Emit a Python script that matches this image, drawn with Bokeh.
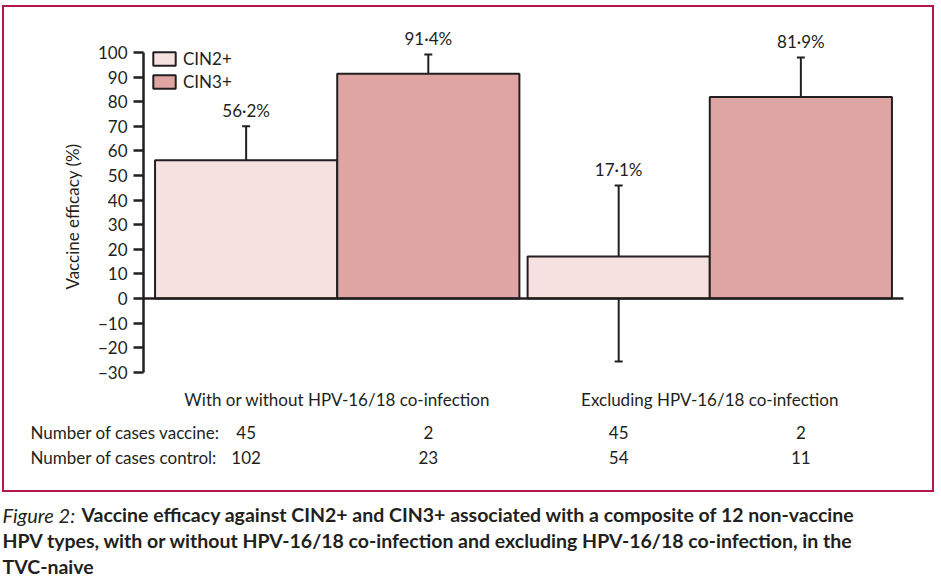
from bokeh.plotting import figure
from bokeh.layouts import column
from bokeh.models import (ColumnDataSource, Range1d, FixedTicker, Whisker, TeeHead,
                          Legend, LegendItem)
from bokeh.core.properties import value
from bokeh.embed import file_html
from bokeh.resources import INLINE

# ---------------- data ----------------
groups = ["With or without HPV-16/18 co-infection", "Excluding HPV-16/18 co-infection"]
series = ["CIN2+", "CIN3+"]
cin2_eff = [56.2, 17.1]
cin2_lo = [37.8, -25.6]
cin2_hi = [70.0, 45.9]
cin3_eff = [91.4, 81.9]
cin3_lo = [65.4, 17.1]
cin3_hi = [99.2, 98.0]
vaccine_cin2 = [45, 45]
vaccine_cin3 = [2, 2]
control_cin2 = [102, 54]
control_cin3 = [23, 11]
y_ticks = [-30, -20, -10, 0, 10, 20, 30, 40, 50, 60, 70, 80, 90, 100]
row_labels = ["Number of cases vaccine:", "Number of cases control:"]
caption_lead = "Figure 2:"
caption_lines = ["Vaccine efficacy against CIN2+ and CIN3+ associated with a composite of 12 non-vaccine",
                 "HPV types, with or without HPV-16/18 co-infection and excluding HPV-16/18 co-infection, in the",
                 "TVC-naive"]

# ---------------- layout (image pixel geometry) ----------------
FONT = "Lato"
INK = "#231f20"
C2 = "#f5e1df"
C3 = "#dfa5a2"
FRAME = "#b5174a"

BOX_L, BOX_R, BOX_T, BOX_B = 4, 932, 7, 490      # inner edges of the framed panel
AX_X = 143                                        # y axis position
FRAME_TOP = 20                                    # top of the chart's plotting area
CHART_B = 412                                     # bottom of chart figure
PXU_Y = 2.46                                      # pixels per % on y
Y0_PIX = 298                                      # pixel row of y = 0
X_START, X_END_AX = 0.48, 2.52                    # x data range between axis and end of zero line
AX_END_PIX = 903
PXU_X = (AX_END_PIX - AX_X) / (X_END_AX - X_START)
BAR_W = 0.489
W_ALL, H_ALL = 941, 577


def xd(px):
    return X_START + (px - AX_X) / PXU_X


def yd(py):
    return (Y0_PIX - py) / PXU_Y


gpos = [i + 1 for i in range(len(groups))]
x2 = [g - BAR_W / 2 for g in gpos]
x3 = [g + BAR_W / 2 for g in gpos]


def fmt(v):
    return f"{v:.1f}%".replace(".", "\u00b7")


src2 = ColumnDataSource(dict(x=x2, top=cin2_eff, lo=cin2_lo, hi=cin2_hi,
                             lab=[fmt(v) for v in cin2_eff],
                             vac=[str(v) for v in vaccine_cin2],
                             ctl=[str(v) for v in control_cin2]))
src3 = ColumnDataSource(dict(x=x3, top=cin3_eff, lo=cin3_lo, hi=cin3_hi,
                             lab=[fmt(v) for v in cin3_eff],
                             vac=[str(v) for v in vaccine_cin3],
                             ctl=[str(v) for v in control_cin3]))


def bare(fig):
    fig.grid.visible = False
    fig.outline_line_color = None
    fig.background_fill_color = "white"
    fig.border_fill_color = "white"
    return fig


# ---------------- chart ----------------
p = figure(width=BOX_R - BOX_L, height=CHART_B - BOX_T, output_backend="svg", toolbar_location=None,
           x_range=Range1d(X_START, xd(BOX_R)), y_range=Range1d(yd(CHART_B), yd(FRAME_TOP)),
           x_axis_location=None, title=None,
           min_border_left=AX_X - BOX_L, min_border_right=0,
           min_border_top=FRAME_TOP - BOX_T, min_border_bottom=0)
bare(p)

r2 = p.vbar(x="x", top="top", bottom=0, width=BAR_W, source=src2,
            fill_color=C2, line_color=INK, line_width=2)
r3 = p.vbar(x="x", top="top", bottom=0, width=BAR_W, source=src3,
            fill_color=C3, line_color=INK, line_width=2)

# zero line (from the y axis to the end of the category span)
p.segment(x0=[X_START], y0=[0], x1=[X_END_AX], y1=[0], line_color=INK, line_width=2.5)

for s in (src2, src3):
    p.add_layout(Whisker(source=s, base="x", upper="hi", lower="lo", dimension="height",
                         line_color=INK, line_width=2,
                         upper_head=TeeHead(size=8, line_color=INK, line_width=2),
                         lower_head=TeeHead(size=8, line_color=INK, line_width=2)))
    p.text(x="x", y="hi", text="lab", source=s, text_align="center",
           text_baseline="middle", y_offset=-16, text_font=value(FONT),
           text_font_size="17px", text_color=INK)

# category labels under the axis
p.text(x=gpos, y=[yd(399)] * len(gpos), text=groups, text_align="center",
       text_baseline="middle", text_font=value(FONT), text_font_size="17px", text_color=INK)

ax = p.yaxis[0]
ax.bounds = (-30, 100)
ax.ticker = FixedTicker(ticks=y_ticks)
ax.major_label_overrides = {t: str(t).replace("-", "\u2212") for t in y_ticks if t < 0}
ax.axis_label = "Vaccine efficacy (%)"
ax.axis_label_text_font = FONT
ax.axis_label_text_font_size = "17px"
ax.axis_label_text_font_style = "normal"
ax.axis_label_text_color = INK
ax.axis_label_standoff = 12
ax.major_label_text_font = FONT
ax.major_label_text_font_size = "17px"
ax.major_label_text_color = INK
ax.major_label_standoff = 6
ax.axis_line_color = INK
ax.axis_line_width = 2.5
ax.major_tick_line_color = INK
ax.major_tick_line_width = 2.5
ax.major_tick_out = 10
ax.major_tick_in = 0
ax.minor_tick_line_color = None

legend = Legend(items=[LegendItem(label=series[0], renderers=[r2]),
                       LegendItem(label=series[1], renderers=[r3])],
                location=(7, CHART_B - 92), orientation="vertical", padding=0, margin=0, spacing=2,
                glyph_width=28, glyph_height=17, label_height=17, label_standoff=5,
                label_text_font=FONT, label_text_font_size="17px", label_text_color=INK,
                border_line_color=None, background_fill_alpha=0)
p.add_layout(legend)

# ---------------- case table ----------------
t = figure(width=BOX_R - BOX_L, height=BOX_B - CHART_B, output_backend="svg", toolbar_location=None,
           x_range=Range1d(xd(BOX_L), xd(BOX_R)), y_range=Range1d(BOX_B, CHART_B),
           x_axis_location=None, y_axis_location=None, title=None, min_border=0,
           min_border_left=0, min_border_right=0, min_border_top=0, min_border_bottom=0)
bare(t)
ROW_Y = [432, 457]
t.text(x=[xd(30)] * 2, y=ROW_Y, text=row_labels, text_align="left", text_baseline="middle",
       text_font=value(FONT), text_font_size="17px", text_color=INK)
for s in (src2, src3):
    for col, ry in zip(("vac", "ctl"), ROW_Y):
        t.text(x="x", y=ry, text=col, source=s, text_align="center", text_baseline="middle",
               text_font=value(FONT), text_font_size="17px", text_color=INK)

framed = column(p, column(t, spacing=0), spacing=0, margin=(BOX_T, W_ALL - BOX_R, 0, BOX_L),
                styles={"outline": f"2px solid {FRAME}", "outline-offset": "0px"})

# ---------------- caption ----------------
c = figure(width=W_ALL, height=H_ALL - BOX_B - 2, output_backend="svg", toolbar_location=None,
           x_range=Range1d(0, W_ALL), y_range=Range1d(H_ALL, BOX_B + 2),
           x_axis_location=None, y_axis_location=None, title=None, min_border=0,
           min_border_left=0, min_border_right=0, min_border_top=0, min_border_bottom=0,
           margin=(2, 0, 0, 0))
bare(c)
c.text(x=[2], y=[514], text=[caption_lead], text_font=value(FONT), text_font_style="italic",
       text_font_size="20px", text_color=INK, text_baseline="middle")
c.text(x=[81, 2, 2], y=[514, 540, 566], text=caption_lines, text_font=value(FONT),
       text_font_style="bold", text_font_size="19.5px", text_color=INK, text_baseline="middle")

layout = column(framed, c, spacing=0)

open("out.html", "w").write(file_html(layout, INLINE))
